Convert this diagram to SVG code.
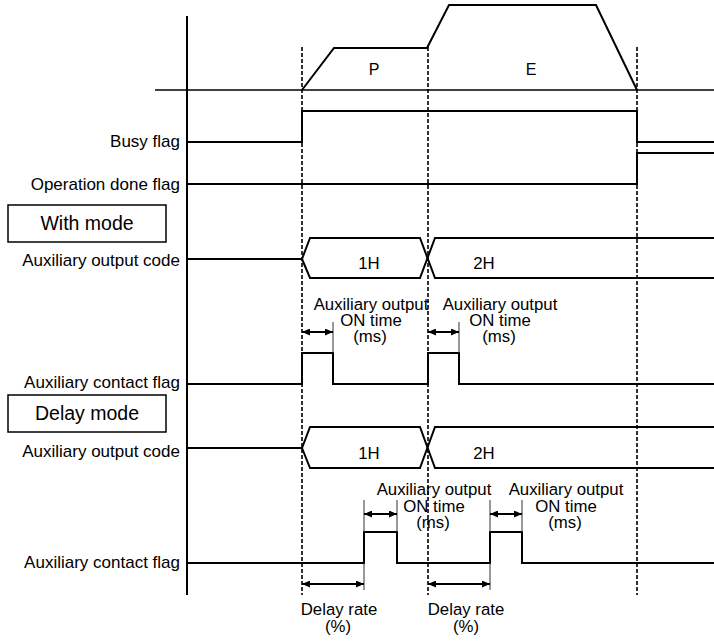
<svg xmlns="http://www.w3.org/2000/svg" width="714" height="641" viewBox="0 0 714 641">
<defs>
<style>
.sig{fill:none;stroke:#000;stroke-width:2;stroke-linejoin:miter}
.axis{fill:none;stroke:#000;stroke-width:2}
.dash{fill:none;stroke:#000;stroke-width:1.6;stroke-dasharray:4 2}
.tick{fill:none;stroke:#333;stroke-width:1}
.arr{fill:none;stroke:#000;stroke-width:2;marker-start:url(#ah);marker-end:url(#ah)}
.lbl{font-family:"Liberation Sans",Arial,sans-serif;font-size:17px;fill:#000;text-anchor:end}
.ann{font-family:"Liberation Sans",Arial,sans-serif;font-size:16.8px;fill:#000;text-anchor:middle}
.mode{font-family:"Liberation Sans",Arial,sans-serif;font-size:19.5px;fill:#000;text-anchor:middle}
.box{fill:#fff;stroke:#000;stroke-width:1.5}
</style>
<marker id="ah" viewBox="0 0 8 7" refX="8" refY="3.5" markerWidth="8" markerHeight="7" markerUnits="userSpaceOnUse" orient="auto-start-reverse">
<path d="M0,0 L8,3.5 L0,7 z" fill="#000"/>
</marker>
</defs>
<rect width="714" height="641" fill="#fff"/>

<g id="axes">
<path class="axis" d="M187,16 V595"/>
<path class="axis" style="stroke-width:1.5" d="M155,90 H714"/>
</g>

<g id="guides">
<path class="dash" d="M302,47 V595"/>
<path class="dash" d="M428,47 V595"/>
<path class="dash" d="M637,47 V595"/>
</g>

<g id="speed-profile">
<path class="sig" d="M302,90 L334,48 H427 L449,5 H596 L637,90"/>
<text class="ann" x="374" y="75" style="font-size:16px">P</text>
<text class="ann" x="531" y="75" style="font-size:16px">E</text>
</g>

<g id="busy-flag">
<text class="lbl" x="180" y="147">Busy flag</text>
<path class="sig" d="M187,142 H302 V111 H637 V142 H714"/>
</g>

<g id="operation-done-flag">
<text class="lbl" x="180" y="190">Operation done flag</text>
<path class="sig" d="M187,184 H637 V153 H714"/>
</g>

<g id="with-mode">
<rect class="box" x="8" y="205" width="158" height="37"/>
<text class="mode" x="87" y="230">With mode</text>
</g>

<g id="with-aux-code">
<text class="lbl" x="180" y="266">Auxiliary output code</text>
<path class="sig" d="M187,259 H302 L310,238 H420 L435,278 H714"/>
<path class="sig" d="M302,259 L310,278 H420 L435,238 H714"/>
<text class="ann" x="369" y="269">1H</text>
<text class="ann" x="484" y="269">2H</text>
</g>

<g id="with-aux-contact">
<text class="lbl" x="180" y="388">Auxiliary contact flag</text>
<path class="sig" d="M187,384 H302 V353 H333 V384 H428 V353 H459 V384 H714"/>
</g>

<g id="with-annotations">
<text class="ann" x="371" y="310">Auxiliary output</text>
<text class="ann" x="371" y="326">ON time</text>
<text class="ann" x="370" y="342">(ms)</text>
<text class="ann" x="500" y="310">Auxiliary output</text>
<text class="ann" x="500" y="326">ON time</text>
<text class="ann" x="499" y="342">(ms)</text>
</g>

<g id="delay-mode">
<rect class="box" x="8" y="395" width="158" height="37"/>
<text class="mode" x="87" y="420">Delay mode</text>
</g>

<g id="delay-aux-code">
<text class="lbl" x="180" y="457">Auxiliary output code</text>
<path class="sig" d="M187,448 H302 L310,427 H420 L435,468 H714"/>
<path class="sig" d="M302,448 L310,468 H420 L435,427 H714"/>
<text class="ann" x="369" y="459">1H</text>
<text class="ann" x="484" y="459">2H</text>
</g>

<g id="delay-aux-contact">
<text class="lbl" x="180" y="568">Auxiliary contact flag</text>
<path class="sig" d="M187,563 H364 V532 H397 V563 H490 V532 H522 V563 H714"/>
</g>

<g id="delay-annotations">
<text class="ann" x="434" y="495">Auxiliary output</text>
<text class="ann" x="434" y="512">ON time</text>
<text class="ann" x="433" y="528">(ms)</text>
<text class="ann" x="566" y="495">Auxiliary output</text>
<text class="ann" x="566" y="512">ON time</text>
<text class="ann" x="565" y="528">(ms)</text>
<text class="ann" x="339" y="615">Delay rate</text>
<text class="ann" x="338" y="632">(%)</text>
<text class="ann" x="466" y="615">Delay rate</text>
<text class="ann" x="466" y="632">(%)</text>
</g>

<g id="connectors">
<path class="tick" d="M333,322 V353"/>
<path class="tick" d="M459,322 V353"/>
<path class="arr" d="M302,332 H333"/>
<path class="arr" d="M428,332 H459"/>
<path class="tick" d="M364,500 V532 M397,500 V532 M490,500 V532 M522,500 V532"/>
<path class="arr" d="M364,514 H397"/>
<path class="arr" d="M490,514 H522"/>
<path class="tick" d="M364,563 V590 M490,563 V590"/>
<path class="arr" d="M302,584 H364"/>
<path class="arr" d="M428,584 H490"/>
</g>
</svg>
